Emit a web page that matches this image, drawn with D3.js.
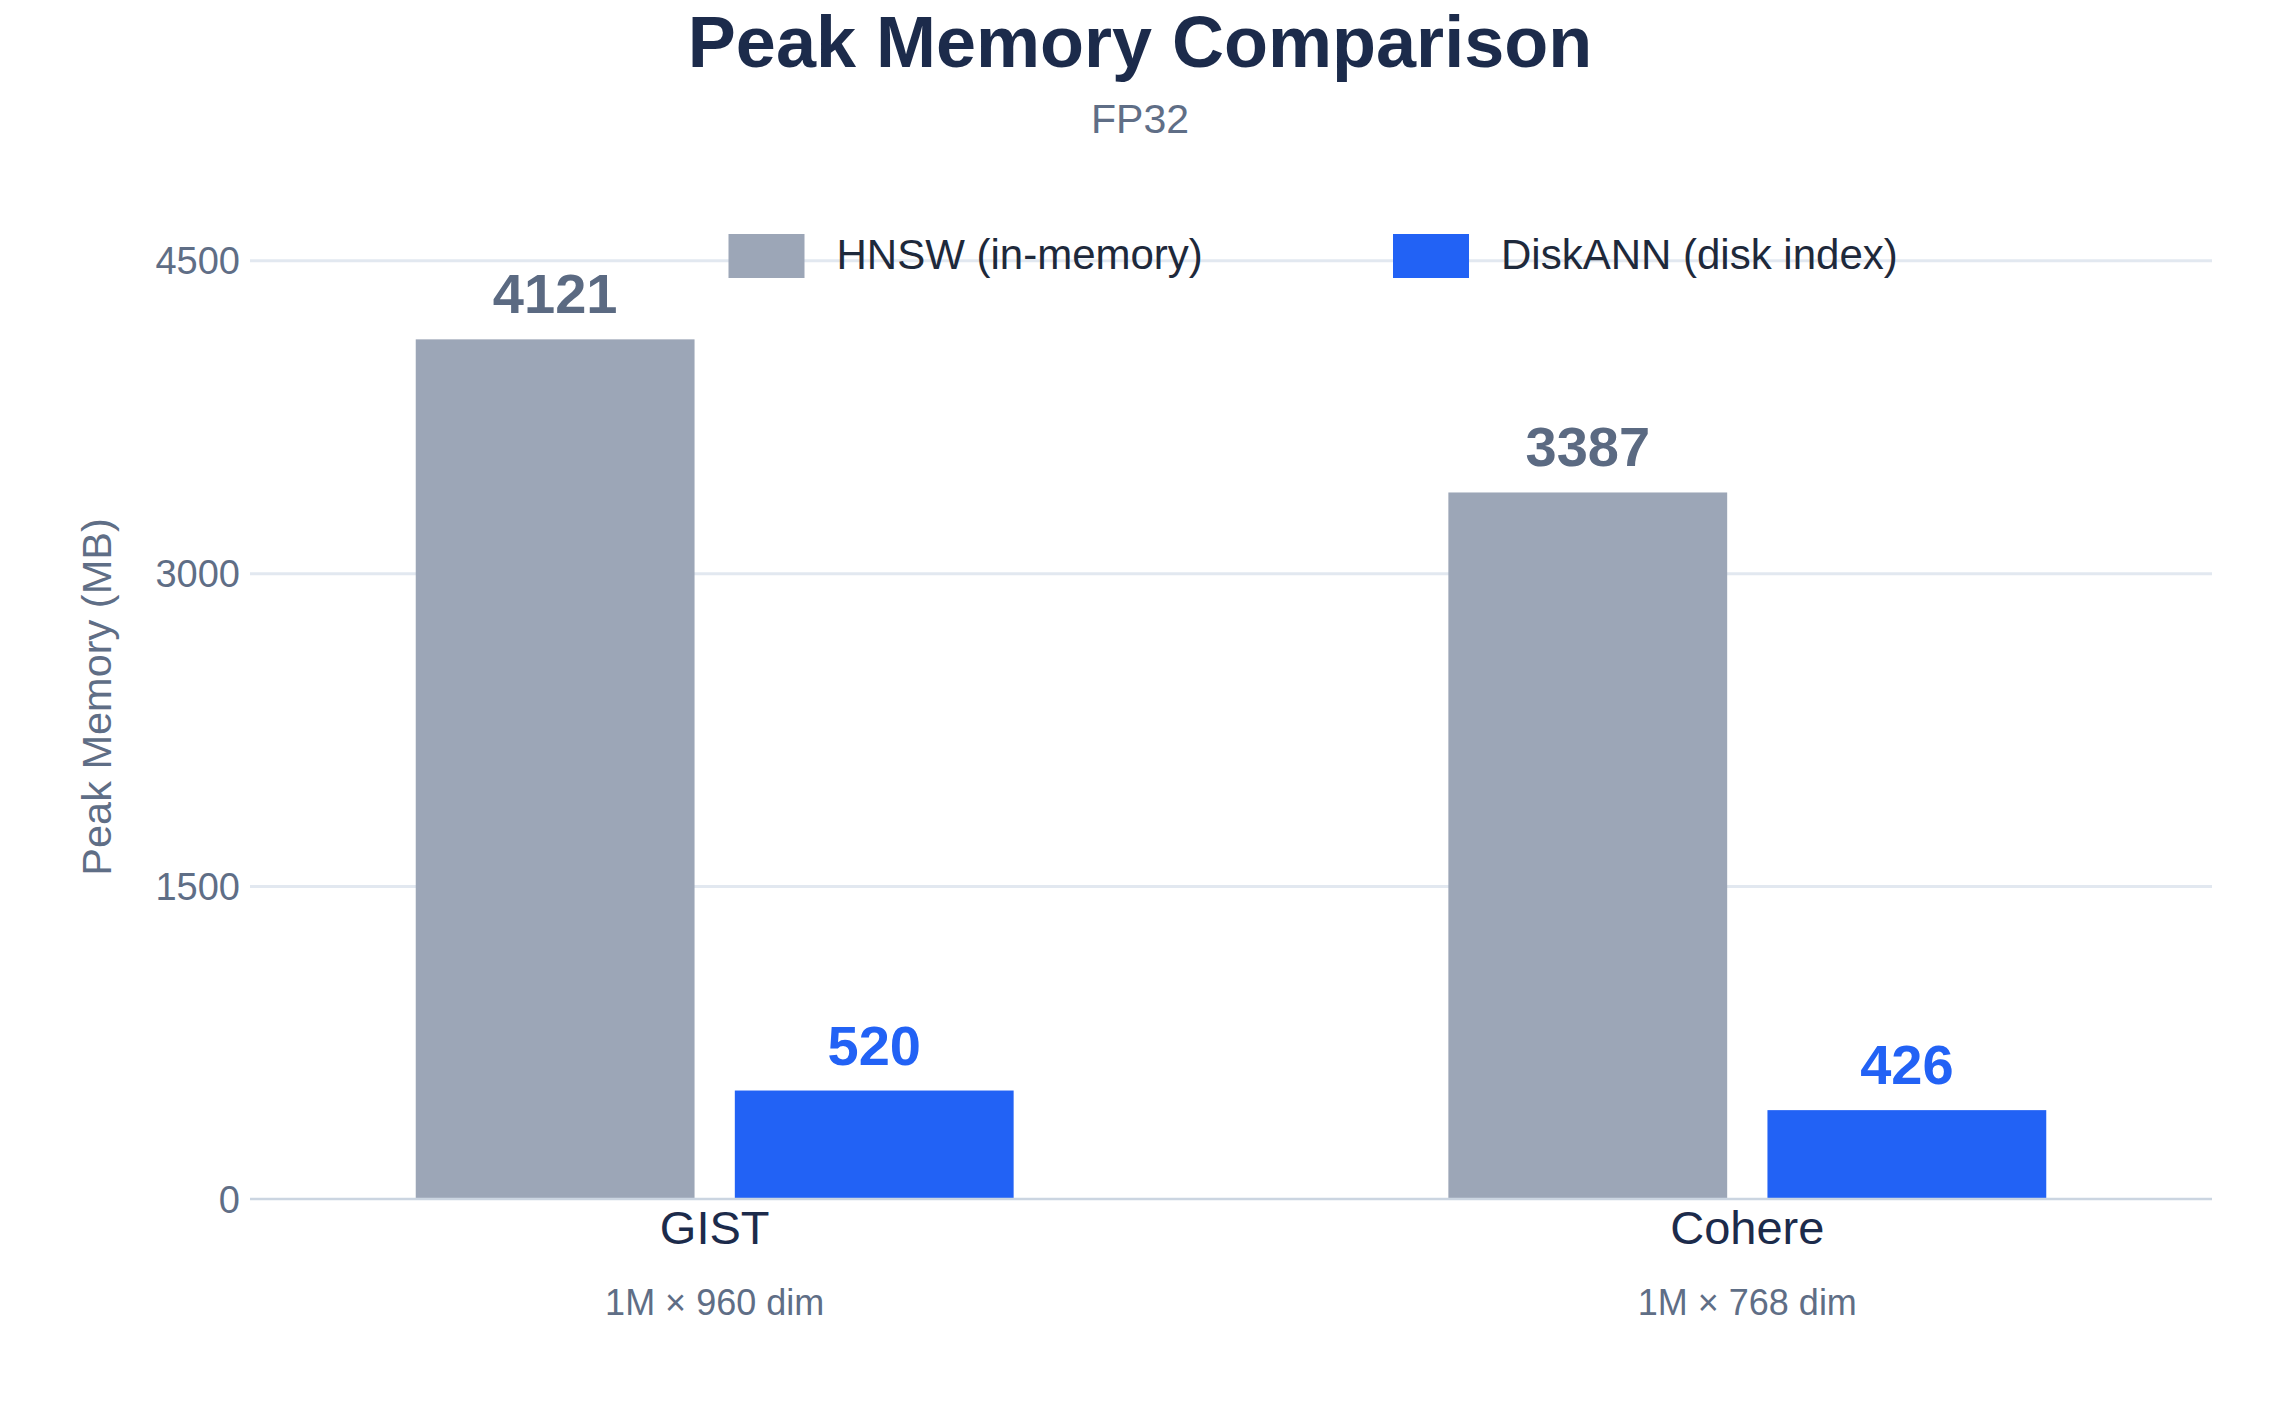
<!DOCTYPE html>
<html>
<head>
<meta charset="utf-8">
<script src="https://cdn.jsdelivr.net/npm/d3@7"></script>
<style>
  html, body { margin: 0; padding: 0; background: #ffffff; }
  svg { display: block; }
  text { font-family: "Liberation Sans", Arial, Helvetica, sans-serif; }
</style>
</head>
<body>
<svg id="chart" width="2280" height="1410"></svg>
<script>
// ---- data ----
const categories = ["GIST", "Cohere"];
const categorySubLabels = ["1M × 960 dim", "1M × 768 dim"];
const seriesNames = ["HNSW (in-memory)", "DiskANN (disk index)"];
const hnswValues = [4121, 3387];
const diskannValues = [520, 426];
const yTickValues = [0, 1500, 3000, 4500];
const titleText = "Peak Memory Comparison";
const subtitleText = "FP32";
const yAxisTitle = "Peak Memory (MB)";

// ---- styles ----
const seriesColors = ["#9ca6b7", "#2262f5"];
const labelColors = ["#5b6a82", "#2262f5"];
const navy = "#1c2b4b";
const slate = "#5f6e86";

const W = 2280, H = 1410;
const plot = { left: 250, right: 2212, top: 260.3, bottom: 1199 };

const svg = d3.select("#chart");
svg.append("rect").attr("width", W).attr("height", H).attr("fill", "#fff");

const x = d3.scaleLinear().domain([-0.45, categories.length - 0.55]).range([plot.left, plot.right]);
const y = d3.scaleLinear().domain([0, 4500]).range([plot.bottom, plot.top]);

const barW = x(0.27) - x(0);
const offset = x(0.1545) - x(0);

// gridlines
const yAxis = d3.axisLeft(y).tickValues(yTickValues).tickSize(-(plot.right - plot.left)).tickFormat(d => d);
const gy = svg.append("g").attr("transform", `translate(${plot.left},0)`).call(yAxis);
gy.select(".domain").remove();
gy.selectAll(".tick line").attr("stroke", d => d === 0 ? "none" : "#e2e8f0").attr("stroke-width", 3);
gy.selectAll(".tick text")
  .attr("x", -10)
  .attr("dy", "0.35em")
  .attr("fill", slate)
  .style("font-size", "38px");

// bars
const seriesData = [hnswValues, diskannValues];
seriesData.forEach((vals, si) => {
  const off = si === 0 ? -offset : offset;
  const g = svg.append("g");
  g.selectAll("rect").data(vals).join("rect")
    .attr("x", (d, i) => x(i) + off - barW / 2)
    .attr("y", d => y(d))
    .attr("width", barW)
    .attr("height", d => y(0) - y(d))
    .attr("fill", seriesColors[si]);
  g.selectAll("text").data(vals).join("text")
    .attr("x", (d, i) => x(i) + off)
    .attr("y", d => y(d) - 26)
    .attr("text-anchor", "middle")
    .attr("fill", labelColors[si])
    .style("font-size", "56px")
    .style("font-weight", "bold")
    .text(d => d);
});

// zero line
svg.append("line")
  .attr("x1", plot.left).attr("x2", plot.right)
  .attr("y1", y(0)).attr("y2", y(0))
  .attr("stroke", "#cbd5e1").attr("stroke-width", 2.5);

// x category labels
const xl = svg.append("g");
xl.selectAll("text.cat").data(categories).join("text")
  .attr("class", "cat")
  .attr("x", (d, i) => x(i))
  .attr("y", 1244)
  .attr("text-anchor", "middle")
  .attr("fill", navy)
  .style("font-size", "47px")
  .text(d => d);
xl.selectAll("text.sub").data(categorySubLabels).join("text")
  .attr("class", "sub")
  .attr("x", (d, i) => x(i))
  .attr("y", 1315)
  .attr("text-anchor", "middle")
  .attr("fill", slate)
  .style("font-size", "36px")
  .text(d => d);

// y axis title
svg.append("text")
  .attr("transform", `translate(111,697) rotate(-90)`)
  .attr("text-anchor", "middle")
  .attr("fill", slate)
  .style("font-size", "41.5px")
  .text(yAxisTitle);

// title & subtitle
svg.append("text")
  .attr("x", 1140).attr("y", 67)
  .attr("text-anchor", "middle")
  .attr("fill", navy)
  .style("font-size", "72px")
  .style("font-weight", "bold")
  .text(titleText);
svg.append("text")
  .attr("x", 1140).attr("y", 133)
  .attr("text-anchor", "middle")
  .attr("fill", slate)
  .style("font-size", "41px")
  .text(subtitleText);

// legend
const legendX = [728.5, 1393];
const lg = svg.append("g");
seriesNames.forEach((name, i) => {
  lg.append("rect")
    .attr("x", legendX[i]).attr("y", 234)
    .attr("width", 76).attr("height", 44)
    .attr("fill", seriesColors[i]);
  lg.append("text")
    .attr("x", legendX[i] + 108).attr("y", 254)
    .attr("dy", "0.35em")
    .attr("fill", "#1e293b")
    .style("font-size", "42px")
    .text(name);
});
</script>
</body>
</html>
